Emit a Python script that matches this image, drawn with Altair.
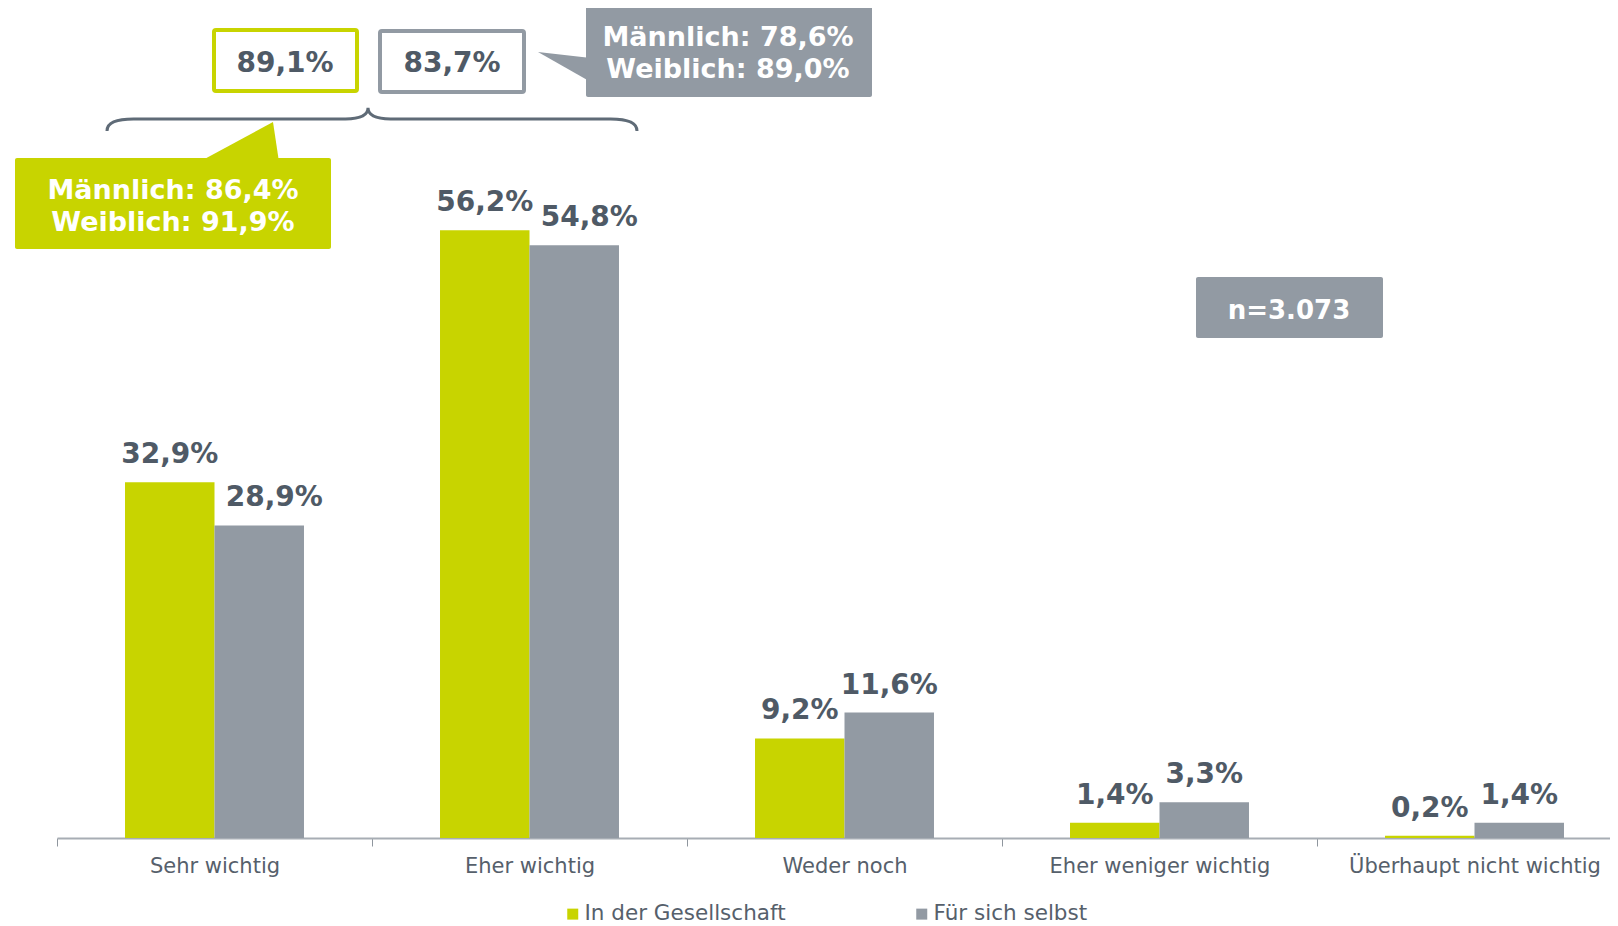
import altair as alt
import pandas as pd

# ---------------- data ----------------
categories = ["Sehr wichtig", "Eher wichtig", "Weder noch",
              "Eher weniger wichtig", "Überhaupt nicht wichtig"]
series = ["In der Gesellschaft", "Für sich selbst"]
gesellschaft = [32.9, 56.2, 9.2, 1.4, 0.2]
selbst = [28.9, 54.8, 11.6, 3.3, 1.4]

top2_boxes = ["89,1%", "83,7%"]
callout_gesellschaft = ["Männlich: 86,4%", "Weiblich: 91,9%"]
callout_selbst = ["Männlich: 78,6%", "Weiblich: 89,0%"]
n_label = ["n=3.073"]
shifted_label_cats = ["Sehr wichtig", "Eher wichtig"]

# ---------------- style ----------------
GREEN = "#c8d400"
GRAY = "#929aa3"
TEXT = "#4f5a66"
AXIS_TEXT = "#56606b"
BRACE = "#5f6b77"
FONT = "DejaVu Sans"

rows = []
for c, g, s in zip(categories, gesellschaft, selbst):
    rows.append({"cat": c, "series": series[0], "value": g})
    rows.append({"cat": c, "series": series[1], "value": s})
df = pd.DataFrame(rows)
df["label"] = df["value"].map(lambda v: f"{v:.1f}%".replace(".", ","))

x_enc = alt.X(
    "cat:N", sort=categories,
    scale=alt.Scale(range=[0, 1575], paddingInner=0, paddingOuter=0),
    axis=alt.Axis(title=None, labelAngle=0, tickBand="extent",
                  domainColor="#a7adb4", domainWidth=2,
                  tickColor="#8f969e", tickSize=8, tickWidth=1,
                  labelFontSize=21, labelColor=AXIS_TEXT, labelFont=FONT,
                  labelPadding=9, labelLimit=1000),
)
xoff_enc = alt.XOffset("series:N", sort=series,
                       scale=alt.Scale(paddingOuter=0.76, paddingInner=0))
y_enc = alt.Y("value:Q", scale=alt.Scale(domain=[0, 76], nice=False), axis=None)

bars = alt.Chart(df).mark_bar().encode(
    x=x_enc, xOffset=xoff_enc, y=y_enc,
    color=alt.Color(
        "series:N", sort=series,
        scale=alt.Scale(domain=series, range=[GREEN, GRAY]),
        legend=alt.Legend(
            title=None, orient="none", direction="horizontal",
            legendX=505, legendY=887,
            symbolType="square", symbolSize=121, symbolStrokeWidth=0,
            labelFontSize=21.5, labelColor=AXIS_TEXT, labelFont=FONT,
            labelOffset=1, columnPadding=125, padding=0, labelLimit=1000,
        ),
    ),
)

shift_expr = ("datum.series == 'Für sich selbst' && indexof("
              + str(shifted_label_cats) + ", datum.cat) >= 0")

label_style = dict(baseline="alphabetic", dy=-19, fontSize=28,
                   fontWeight="bold", color=TEXT, font=FONT)
labels = alt.Chart(df).transform_filter("!(" + shift_expr + ")").mark_text(
    **label_style).encode(x=x_enc, xOffset=xoff_enc, y=y_enc, text="label:N")
labels_shift = alt.Chart(df).transform_filter(shift_expr).mark_text(
    dx=15, **label_style).encode(x=x_enc, xOffset=xoff_enc, y=y_enc, text="label:N")


# ---------------- annotations (pixel positions, plot-relative) ----------------
def one():
    return alt.Data(values=[{}])


def box(x1, x2, y1, y2, fill, stroke=None, sw=0):
    kw = dict(fill=fill, cornerRadius=2)
    if stroke is not None:
        kw.update(stroke=stroke, strokeWidth=sw)
    return alt.Chart(one()).mark_rect(**kw).encode(
        x=alt.value(x1), x2=alt.value(x2), y=alt.value(y1), y2=alt.value(y2))


def txt(s, x, y, size, color):
    return alt.Chart(pd.DataFrame({"t": [s]})).mark_text(
        baseline="middle", align="center", fontSize=size, fontWeight="bold",
        color=color, font=FONT).encode(x=alt.value(x), y=alt.value(y), text="t:N")


def shape(path, x, y, size, fill=None, stroke=None, sw=0):
    kw = dict(shape=path, size=size, opacity=1)
    if fill is not None:
        kw.update(filled=True, fill=fill, strokeWidth=0)
    else:
        kw.update(filled=False, stroke=stroke, strokeWidth=sw)
    return alt.Chart(one()).mark_point(**kw).encode(x=alt.value(x), y=alt.value(y))


brace_path = ("M -1 0.045 Q -1 0 -0.9 0 L -0.1 0 Q -0.015 0 -0.015 -0.042 "
              "Q -0.015 0 0.07 0 L 0.9 0 Q 1 0 1 0.045")

annotations = [
    # top-2 boxes
    box(157, 300, 14, 75, "white", GREEN, 4),
    txt(top2_boxes[0], 228, 48, 28, TEXT),
    box(323, 467, 15, 76, "white", GRAY, 4),
    txt(top2_boxes[1], 395, 48, 28, TEXT),
    # gray callout
    shape("M -1 -0.625 L 1.2 -0.375 L 1.2 0.625 Z", 505, 51, 2304, fill=GRAY),
    box(529, 815, -10, 81, GRAY),
    txt(callout_selbst[0], 671, 21.5, 27, "white"),
    txt(callout_selbst[1], 671, 53.5, 27, "white"),
    # brace
    shape(brace_path, 315, 103, 280900, stroke=BRACE, sw=3),
    # green callout
    shape("M -1 0.55 L 1 0.55 L 0.85 -0.45 Z", 182, 124, 6400, fill=GREEN),
    box(-42, 274, 142, 233, GREEN),
    txt(callout_gesellschaft[0], 116, 174.5, 27, "white"),
    txt(callout_gesellschaft[1], 116, 206.5, 27, "white"),
    # n box
    box(1139, 1326, 261, 322, GRAY),
    txt(n_label[0], 1232, 294.5, 26, "white"),
]

chart = alt.layer(bars, labels, labels_shift, *annotations).properties(
    width=1553, height=822,
    autosize=alt.AutoSizeParams(type="none"),
    padding={"left": 49, "top": 8, "right": 0, "bottom": 88},
).configure(font=FONT).configure_view(stroke=None)

chart.save("out.html", embed_options={"renderer": "svg", "actions": False})
